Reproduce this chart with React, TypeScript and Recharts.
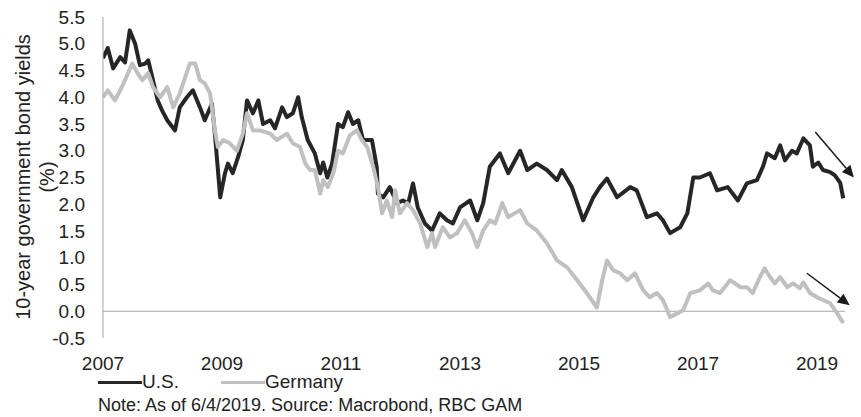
import { LineChart, Line, XAxis, YAxis, ReferenceLine } from "recharts"

const FONT = "'Liberation Sans', Arial, sans-serif"

const usYears = [
  2007.0, 2007.08, 2007.17, 2007.29, 2007.37, 2007.45, 2007.54, 2007.62, 2007.71, 2007.76,
  2007.84, 2007.92, 2007.99, 2008.08, 2008.21, 2008.29, 2008.41, 2008.51, 2008.63, 2008.71,
  2008.83, 2008.88, 2008.97, 2009.05, 2009.1, 2009.18, 2009.27, 2009.35, 2009.42, 2009.52,
  2009.61, 2009.69, 2009.81, 2009.89, 2010.01, 2010.09, 2010.19, 2010.28, 2010.34, 2010.44,
  2010.56, 2010.65, 2010.7, 2010.77, 2010.85, 2010.95, 2011.03, 2011.12, 2011.2, 2011.29,
  2011.37, 2011.52, 2011.6, 2011.62, 2011.71, 2011.82, 2011.94, 2012.04, 2012.13, 2012.21,
  2012.29, 2012.41, 2012.53, 2012.66, 2012.78, 2012.88, 2013.0, 2013.17, 2013.29, 2013.39,
  2013.5, 2013.67, 2013.81, 2014.01, 2014.13, 2014.29, 2014.46, 2014.63, 2014.71, 2014.88,
  2015.07, 2015.24, 2015.35, 2015.47, 2015.64, 2015.86, 2015.97, 2016.14, 2016.31, 2016.41,
  2016.53, 2016.7, 2016.82, 2016.92, 2017.03, 2017.2, 2017.32, 2017.5, 2017.67, 2017.82,
  2017.99, 2018.09, 2018.16, 2018.29, 2018.38, 2018.46, 2018.58, 2018.66, 2018.77, 2018.88,
  2018.93, 2019.02, 2019.1, 2019.22, 2019.3, 2019.39, 2019.44,
]
const usYields = [
  4.73, 4.92, 4.54, 4.75, 4.65, 5.25, 5.0, 4.6, 4.63, 4.69,
  4.32, 3.94, 3.76, 3.57, 3.38, 3.81, 4.0, 4.13, 3.81, 3.57,
  3.88, 3.32, 2.13, 2.58, 2.76, 2.58, 2.88, 3.2, 3.94, 3.7,
  3.94, 3.5, 3.57, 3.42, 3.81, 3.63, 3.7, 4.0, 3.63, 3.2,
  2.95, 2.58, 2.78, 2.5, 2.76, 3.5, 3.44, 3.72, 3.5, 3.57,
  3.2, 3.2, 2.7, 2.2, 2.13, 2.32, 2.02, 2.07, 2.02, 2.39,
  1.94, 1.64, 1.51, 1.83, 1.7, 1.64, 1.94, 2.07, 1.7, 2.02,
  2.7, 2.95, 2.58, 3.0, 2.64, 2.76, 2.64, 2.45, 2.64, 2.32,
  1.7, 2.13, 2.32, 2.48, 2.13, 2.32, 2.26, 1.76, 1.83, 1.7,
  1.46, 1.57, 1.83, 2.5, 2.5, 2.58, 2.26, 2.32, 2.07, 2.39,
  2.45, 2.7, 2.95, 2.86, 3.1, 2.82, 3.0, 2.95, 3.23, 3.1,
  2.7, 2.78, 2.64, 2.6, 2.54, 2.4, 2.11,
]

const deYears = [
  2007.0, 2007.08, 2007.2, 2007.29, 2007.37, 2007.49, 2007.57, 2007.66, 2007.76, 2007.84,
  2007.96, 2008.08, 2008.18, 2008.29, 2008.38, 2008.46, 2008.55, 2008.63, 2008.71, 2008.8,
  2008.88, 2008.93, 2009.02, 2009.13, 2009.25, 2009.35, 2009.42, 2009.52, 2009.64, 2009.81,
  2009.92, 2010.09, 2010.19, 2010.31, 2010.4, 2010.48, 2010.56, 2010.65, 2010.7, 2010.78,
  2010.87, 2010.95, 2011.03, 2011.15, 2011.27, 2011.35, 2011.44, 2011.54, 2011.62, 2011.69,
  2011.77, 2011.86, 2011.91, 2011.99, 2012.11, 2012.21, 2012.33, 2012.45, 2012.53, 2012.58,
  2012.71, 2012.83, 2012.95, 2013.08, 2013.2, 2013.29, 2013.39, 2013.5, 2013.59, 2013.71,
  2013.81, 2014.01, 2014.13, 2014.29, 2014.46, 2014.63, 2014.8, 2014.97, 2015.13, 2015.3,
  2015.39, 2015.47, 2015.57, 2015.69, 2015.81, 2015.94, 2016.08, 2016.19, 2016.31, 2016.41,
  2016.53, 2016.65, 2016.75, 2016.87, 2017.03, 2017.17, 2017.25, 2017.37, 2017.54, 2017.71,
  2017.82, 2017.92, 2018.04, 2018.12, 2018.21, 2018.29, 2018.38, 2018.5, 2018.6, 2018.71,
  2018.77, 2018.88, 2019.0, 2019.1, 2019.22, 2019.34, 2019.44,
]
const deYields = [
  4.0, 4.13, 3.94, 4.13, 4.32, 4.63, 4.47, 4.32, 4.45, 4.19,
  4.0, 4.19, 3.81, 4.07, 4.37, 4.63, 4.63, 4.32, 4.26, 4.07,
  3.38, 3.07, 3.2, 3.14, 3.0, 3.32, 3.7, 3.38, 3.38, 3.32,
  3.2, 3.32, 3.14, 3.07, 2.76, 2.64, 2.64, 2.2, 2.45, 2.32,
  2.58, 3.0, 2.95, 3.29, 3.38, 3.2, 3.07, 2.7, 2.32, 1.83,
  2.07, 1.76, 2.26, 1.83, 2.02, 1.89, 1.64, 1.2, 1.46, 1.2,
  1.57, 1.38, 1.46, 1.7, 1.46, 1.2, 1.51, 1.7, 1.64, 2.02,
  1.76, 1.89, 1.64, 1.51, 1.27, 0.95, 0.82, 0.58, 0.34, 0.07,
  0.58, 0.95, 0.77, 0.71, 0.58, 0.71, 0.39, 0.26, 0.34, 0.21,
  -0.11, -0.04, 0.02, 0.34, 0.39, 0.52, 0.39, 0.34, 0.58, 0.45,
  0.45, 0.34, 0.64, 0.8, 0.64, 0.52, 0.64, 0.45, 0.52, 0.43,
  0.54, 0.34, 0.26, 0.21, 0.15, -0.04, -0.22,
]

const yTicks = [-0.5, 0, 0.5, 1, 1.5, 2, 2.5, 3, 3.5, 4, 4.5, 5, 5.5]
const xTicks = [2007, 2009, 2011, 2013, 2015, 2017, 2019]

// trend arrows: [startYear, startYield, endYear, endYield]
const usArrow = [2018.97, 3.35, 2019.62, 2.5]
const deArrow = [2018.83, 0.71, 2019.55, 0.11]

const usData = usYears.map((t, i) => ({ t, v: usYields[i] }))
const deData = deYears.map((t, i) => ({ t, v: deYields[i] }))

const Arrow = (props: any) => {
  const { x1, y1, x2, y2 } = props
  const len = Math.hypot(x2 - x1, y2 - y1)
  const ux = (x2 - x1) / len
  const uy = (y2 - y1) / len
  const head = 12
  const half = 5.5
  const bx = x2 - ux * head
  const by = y2 - uy * head
  const pts = `${x2},${y2} ${bx - uy * half},${by + ux * half} ${bx + uy * half},${by - ux * half}`
  return (
    <g>
      <line x1={x1} y1={y1} x2={bx} y2={by} stroke="#1a1a1a" strokeWidth={1.5} />
      <polygon points={pts} fill="#1a1a1a" />
    </g>
  )
}

const YTitle = () => (
  <g fontFamily={FONT} fontSize={20} fill="#222">
    <text x={23} y={177} transform="rotate(-90, 23, 177)" textAnchor="middle" dominantBaseline="central">
      10-year government bond yields
    </text>
    <text x={47} y={177} transform="rotate(-90, 47, 177)" textAnchor="middle" dominantBaseline="central">
      (%)
    </text>
  </g>
)

export default function App() {
  return (
    <div style={{ position: "absolute", left: 0, top: 0, width: 861, height: 417, background: "#fff", fontFamily: FONT }}>
      <LineChart width={861} height={417} data={usData} margin={{ top: 17, right: 16, bottom: 49, left: 0 }}>
        <XAxis
          dataKey="t"
          type="number"
          domain={[2007, 2019.47]}
          allowDataOverflow
          ticks={xTicks}
          interval={0}
          axisLine={false}
          tickLine={false}
          tickSize={0}
          tickMargin={0}
          height={30}
          tick={{ fill: "#222", fontSize: 19, fontFamily: FONT, dy: 19 }}
        />
        <YAxis
          type="number"
          domain={[-0.5, 5.5]}
          ticks={yTicks}
          interval={0}
          width={103}
          tickFormatter={(v: number) => v.toFixed(1)}
          axisLine={{ stroke: "#a6a6a6", strokeWidth: 1 }}
          tickLine={false}
          tickSize={0}
          tickMargin={18}
          tick={{ fill: "#222", fontSize: 19, fontFamily: FONT }}
          label={{ content: () => <YTitle /> }}
        />
        <ReferenceLine y={0} stroke="#a6a6a6" strokeWidth={1} />
        <Line
          data={usData}
          dataKey="v"
          name="U.S."
          type="linear"
          stroke="#262626"
          strokeWidth={4}
          strokeLinejoin="round"
          dot={false}
          isAnimationActive={false}
        />
        <Line
          data={deData}
          dataKey="v"
          name="Germany"
          type="linear"
          stroke="#c0c0c0"
          strokeWidth={4}
          strokeLinejoin="round"
          dot={false}
          isAnimationActive={false}
        />
        <ReferenceLine
          segment={[{ x: usArrow[0], y: usArrow[1] }, { x: usArrow[2], y: usArrow[3] }]}
          ifOverflow="visible"
          shape={Arrow}
        />
        <ReferenceLine
          segment={[{ x: deArrow[0], y: deArrow[1] }, { x: deArrow[2], y: deArrow[3] }]}
          ifOverflow="visible"
          shape={Arrow}
        />
      </LineChart>
      <div style={{ position: "absolute", left: 98, top: 371, display: "flex", alignItems: "center", fontSize: 19, color: "#222", lineHeight: "22px" }}>
        <span style={{ display: "inline-block", width: 44, height: 3, background: "#262626" }} />
        <span style={{ marginRight: 42 }}>U.S.</span>
        <span style={{ display: "inline-block", width: 44, height: 3, background: "#c0c0c0" }} />
        <span>Germany</span>
      </div>
      <div style={{ position: "absolute", left: 98, top: 394, fontSize: 18, color: "#222", lineHeight: "22px", whiteSpace: "nowrap" }}>
        Note: As of 6/4/2019. Source: Macrobond, RBC GAM
      </div>
    </div>
  )
}
